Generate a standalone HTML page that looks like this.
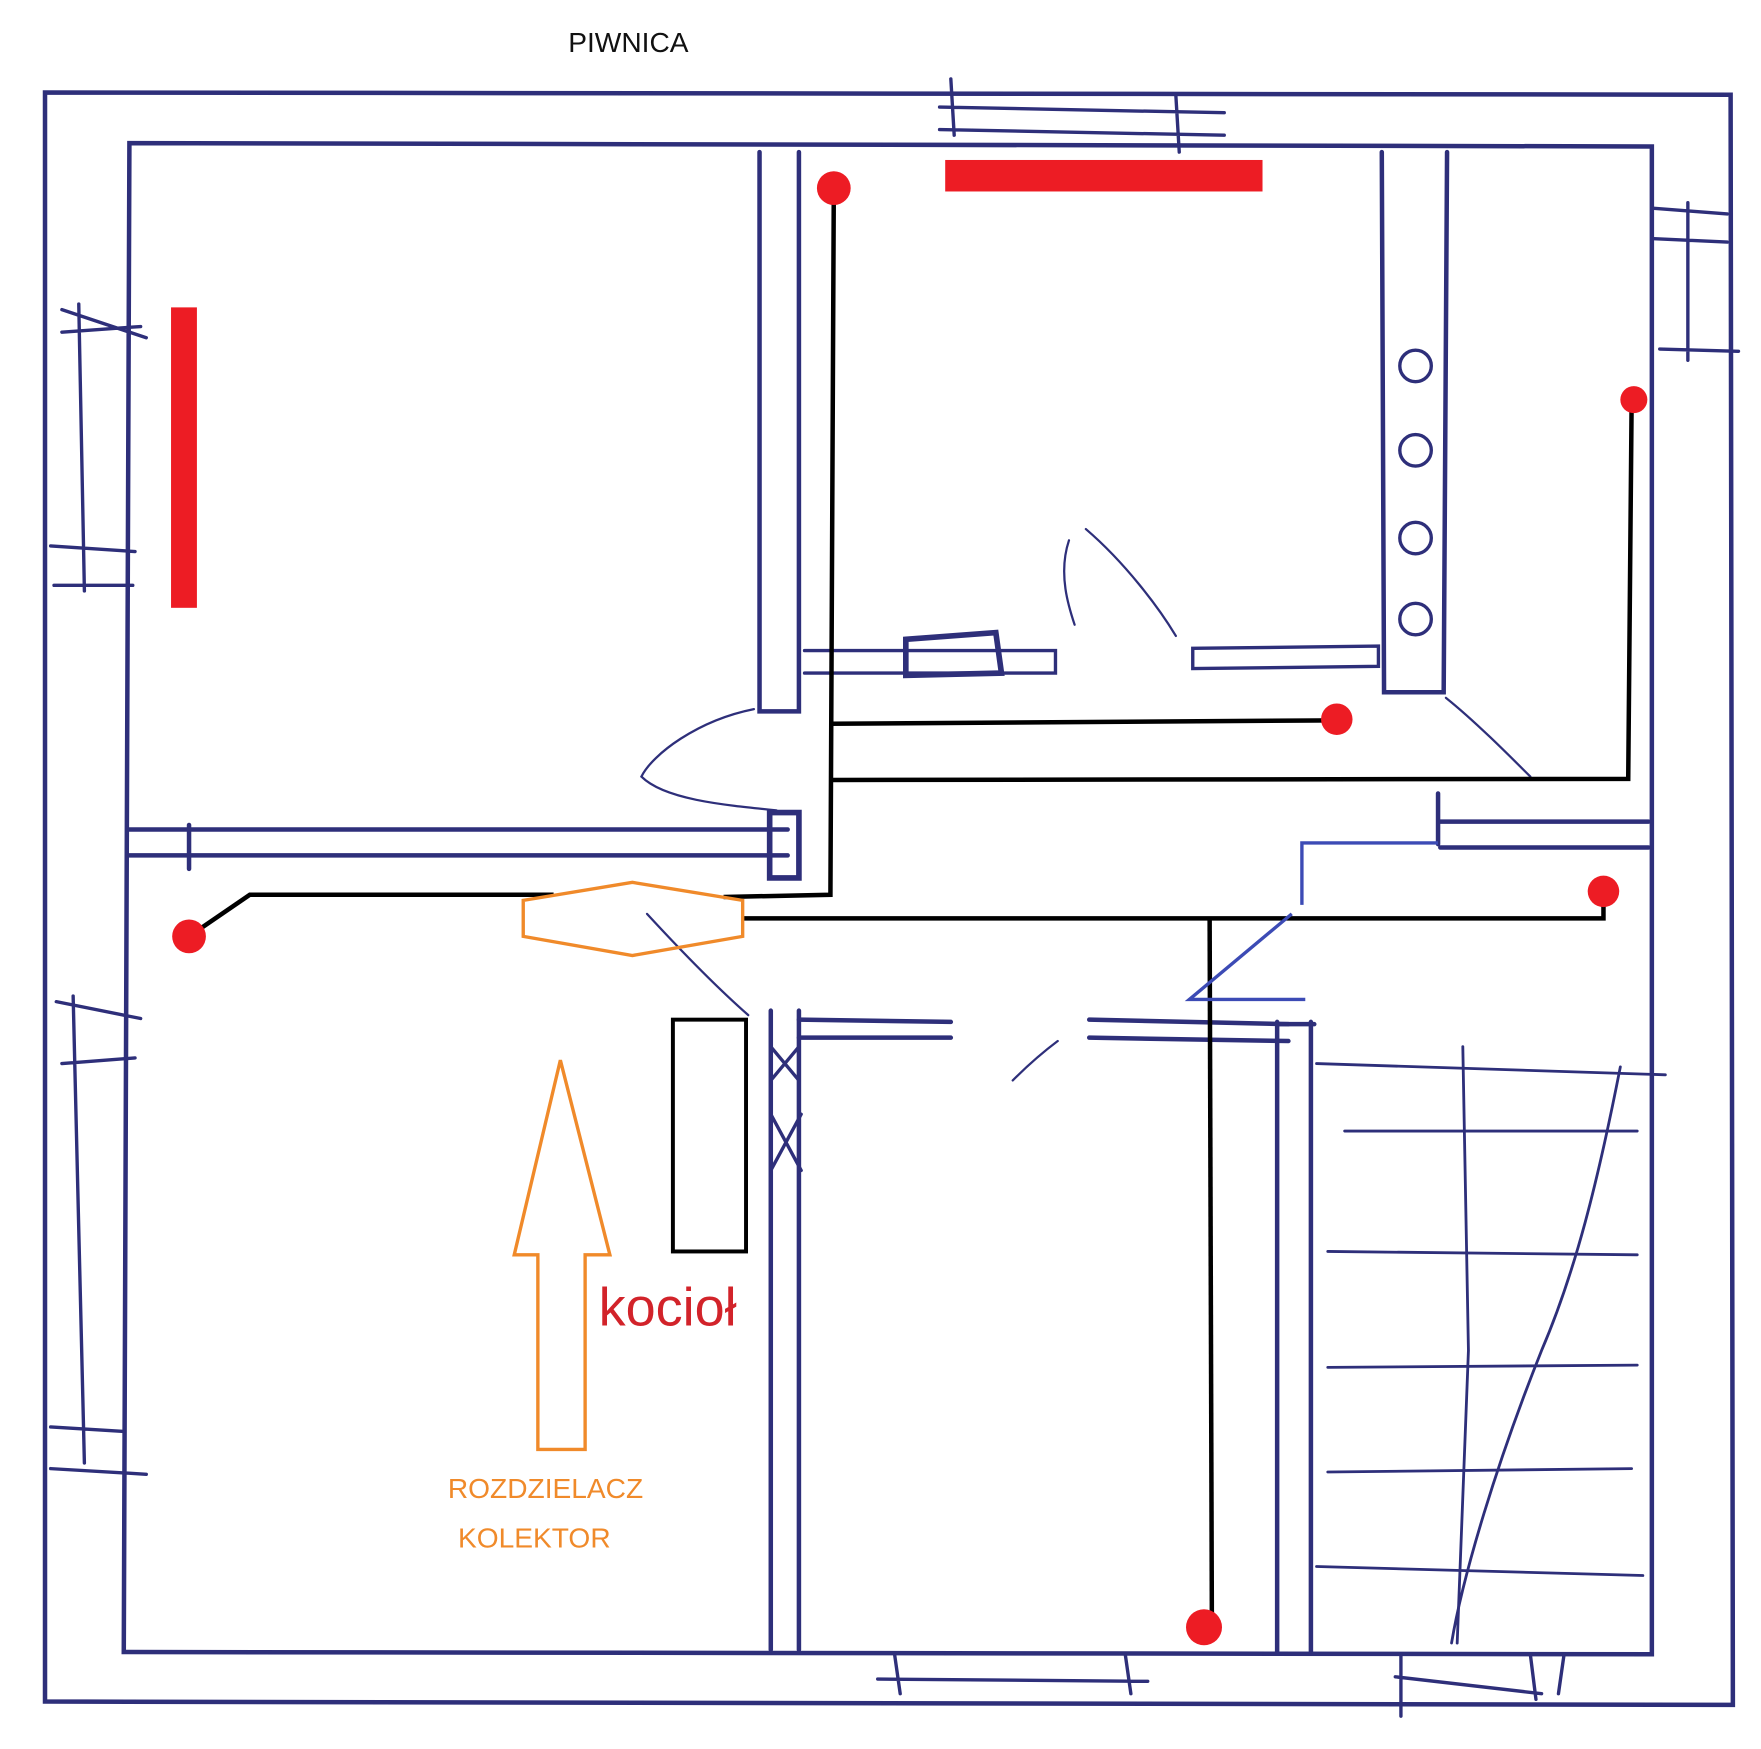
<!DOCTYPE html>
<html><head><meta charset="utf-8"><style>
html,body{margin:0;padding:0;background:#fff;}
svg{display:block}
</style></head><body>
<svg width="1761" height="1749" viewBox="0 0 1565 1554" xmlns="http://www.w3.org/2000/svg">
<rect width="1565" height="1554" fill="#fff"/>
<text x="505" y="46" font-family="Liberation Sans, sans-serif" font-size="25" fill="#111">PIWNICA</text>
<g stroke="#2e2f7a" stroke-width="4" fill="none" stroke-linecap="round">
<!-- outer -->
<path d="M40 82 L1538 84 L1540 1515 L40 1512 Z"/>
<!-- inner -->
<path d="M115 127 L1468 130 L1468 1470 L110 1468 Z"/>
<!-- vertical pair 1 -->
<path d="M675 135 L675 632 L710 632 L710 135"/>
<!-- vertical pair 2 -->
<path d="M1228 135 L1230 615 L1283 615 L1286 135"/>
<!-- left horizontal wall -->
<path d="M115 737 L700 737 M115 760 L700 760 M168 733 L168 772"/>
<path d="M684 722 L710 722 L710 780 L684 780 Z" stroke-width="5"/>
<!-- lower middle walls -->
<path d="M685 898 L685 1466 M710 898 L710 1466"/>
<path d="M1135 908 L1135 1468 M1165 908 L1165 1468 M1135 910 L1168 910"/>
<path d="M710 906 L845 908 M710 922 L845 922"/>
<path d="M968 906 L1145 910 M968 922 L1145 925"/>
<path d="M1278 705 L1278 750 M1278 730 L1465 730 M1280 753 L1465 753"/>
<!-- doors -->
<path d="M715 578 L938 578 L938 598 L715 598 M1060 576 L1225 574 L1225 592 L1060 594 Z" stroke-width="3"/>
<path d="M805 568 L885 562 L890 598 L805 600 Z" stroke-width="5"/>
<path d="M670 630 C620 640 580 670 570 690 C590 710 640 715 690 720" stroke-width="2"/>
<path d="M575 812 C610 850 640 880 665 902" stroke-width="2"/>
<path d="M950 480 C940 510 950 540 955 555 M965 470 C1000 500 1030 540 1045 565" stroke-width="2"/>
<path d="M1285 620 C1310 640 1340 670 1360 690" stroke-width="2"/>
<path d="M940 925 C920 940 905 955 900 960" stroke-width="2"/>
<!-- circles in pair 2 -->
<circle cx="1258" cy="325" r="14" stroke-width="3"/>
<circle cx="1258" cy="400" r="14" stroke-width="3"/>
<circle cx="1258" cy="478" r="14" stroke-width="3"/>
<circle cx="1258" cy="550" r="14" stroke-width="3"/>
<path d="M685 930 L710 960 M685 960 L710 930 M685 990 L712 1040 M685 1040 L712 990" stroke-width="3"/>
<!-- stairs -->
<path d="M1170 945 L1480 955 M1195 1005 L1455 1005 M1180 1112 L1455 1115 M1180 1215 L1455 1213 M1180 1308 L1450 1305 M1170 1392 L1460 1400" stroke-width="2.5"/>
<path d="M1300 930 L1305 1200 L1295 1460" stroke-width="2.5"/>
<path d="M1440 948 C1420 1050 1400 1130 1370 1200 C1330 1300 1300 1400 1290 1460" stroke-width="2.5"/>
<!-- windows -->
<path d="M835 95 L1088 100 M835 115 L1088 120 M845 70 L848 120 M1045 85 L1048 135" stroke-width="3"/>
<path d="M55 275 L130 300 M55 295 L125 290 M70 270 L75 525 M45 485 L120 490 M48 520 L118 520" stroke-width="3"/>
<path d="M50 890 L125 905 M55 945 L120 940 M65 885 L75 1300 M45 1268 L110 1272 M45 1305 L130 1310" stroke-width="3"/>
<path d="M1470 185 L1535 190 M1470 212 L1535 215 M1475 310 L1545 312 M1500 180 L1500 320" stroke-width="3"/>
<path d="M780 1492 L1020 1494 M795 1470 L800 1505 M1000 1470 L1005 1505" stroke-width="3"/>
<path d="M1240 1490 L1370 1505 M1245 1470 L1245 1525 M1360 1470 L1365 1510 M1390 1470 L1385 1505" stroke-width="3"/>
</g>
<!-- red bars -->
<rect x="152" y="273" width="23" height="267" fill="#ed1c24"/>
<rect x="840" y="142" width="282" height="28" fill="#ed1c24"/>
<!-- black pipes -->
<g stroke="#000" stroke-width="4" fill="none">
<path d="M741 167 L738 795 L643 797"/>
<path d="M738 643 L1188 640"/>
<path d="M738 693 L1447 692 L1450 360"/>
<path d="M168 832 L222 795 L492 795"/>
<path d="M660 816 L1425 816 L1425 795"/>
<path d="M1075 816 L1077 1446"/>
<rect x="598" y="906" width="65" height="206" stroke-width="3.5"/>
</g>
<!-- red dots -->
<g fill="#ed1c24">
<circle cx="741" cy="167" r="15"/>
<circle cx="1452" cy="355" r="12"/>
<circle cx="1188" cy="639" r="14"/>
<circle cx="1425" cy="792" r="14"/>
<circle cx="168" cy="832" r="15"/>
<circle cx="1070" cy="1446" r="16"/>
</g>
<!-- blue -->
<g stroke="#3c4bb5" stroke-width="3" fill="none">
<path d="M1157 804 L1157 749 L1278 749"/>
<path d="M1148 812 L1057 888 L1160 888"/>
</g>
<!-- orange -->
<g stroke="#f08a2a" stroke-width="3" fill="none">
<polygon points="465,800 562,784 660,800 660,832 562,849 465,832"/>
<polygon points="498,942 542,1115 520,1115 520,1288 478,1288 478,1115 457,1115"/>
</g>
<text x="532" y="1178" font-family="Liberation Sans, sans-serif" font-size="48" fill="#d2232a">kocioł</text>
<text x="398" y="1331" font-family="Liberation Sans, sans-serif" font-size="25" fill="#f08a2a">ROZDZIELACZ</text>
<text x="407" y="1375" font-family="Liberation Sans, sans-serif" font-size="25" fill="#f08a2a">KOLEKTOR</text>
</svg>
</body></html>
